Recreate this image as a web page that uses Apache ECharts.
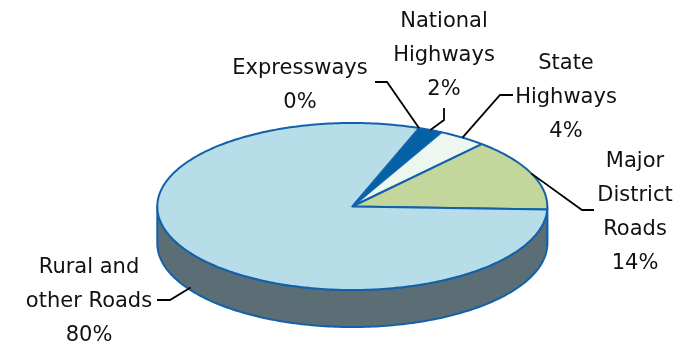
<!DOCTYPE html>
<html>
<head>
<meta charset="utf-8">
<script src="https://cdn.jsdelivr.net/npm/echarts@6/dist/echarts.min.js"></script>
<style>
  html, body { margin: 0; padding: 0; background: #ffffff; }
  #chart { width: 688px; height: 344px; }
</style>
</head>
<body>
<div id="chart"></div>
<script>
// Road network length share by road category (%)
const categories = ['Expressways', 'National Highways', 'State Highways', 'Major District Roads', 'Rural and other Roads'];
const labelNames = ['Expressways', 'National\nHighways', 'State\nHighways', 'Major\nDistrict\nRoads', 'Rural and\nother Roads'];
const shares = [0, 2, 4, 14, 80];

// Fill colours of the top face and of the visible rim
const topColors = ['#0a4f8c', '#0461a6', '#eef7ef', '#c3d69b', '#b7dde8'];
const sideColors = ['#08375f', '#03457a', '#a9b5aa', '#7d8c5f', '#5b6e75'];

// Tilted pie geometry (px) and first-slice angle (degrees, counter-clockwise from 3 o'clock)
const PIE = { cx: 352.3, cy: 206.5, rx: 195, ry: 83.5, depth: 37, start: 70 };
const EDGE = '#1262ab';

// Label blocks: centre of the text block, leader elbow and leader end (px)
const labelLayout = [
  { x: 300, y: 86,  elbow: [387, 82],  end: [375, 82] },
  { x: 444, y: 56,  elbow: [444, 120], end: [444, 108] },
  { x: 566, y: 98,  elbow: [500, 95],  end: [513, 95] },
  { x: 635, y: 213, elbow: [582, 210], end: [594, 210] },
  { x: 89,  y: 302, elbow: [170, 300], end: [157, 300] }
];

const total = shares.reduce((a, b) => a + b, 0);

function ellipsePoint(deg, dy) {
  const t = deg * Math.PI / 180;
  return [PIE.cx + PIE.rx * Math.cos(t), PIE.cy - PIE.ry * Math.sin(t) + (dy || 0)];
}

function arc(from, to, dy) {
  const pts = [];
  const n = Math.max(2, Math.ceil(Math.abs(to - from) / 1));
  for (let k = 0; k <= n; k++) {
    pts.push(ellipsePoint(from + (to - from) * k / n, dy));
  }
  return pts;
}

function renderItem(params, api) {
  const i = params.dataIndex;
  const v = api.value(0);
  let before = 0;
  for (let k = 0; k < i; k++) before += shares[k];
  const a0 = PIE.start - before / total * 360;
  const a1 = a0 - v / total * 360;
  const children = [];

  // visible rim: parts of the slice lying on the front (lower) half
  for (let k = -2; k <= 1; k++) {
    const lo = Math.max(a1, -180 + 360 * k);
    const hi = Math.min(a0, 360 * k);
    if (hi > lo) {
      const pts = arc(hi, lo, 0).concat(arc(lo, hi, PIE.depth));
      children.push({
        type: 'polygon',
        z2: 1,
        shape: { points: pts },
        style: { fill: sideColors[i], stroke: EDGE, lineWidth: 2, lineJoin: 'round' }
      });
    }
  }

  // top face
  if (v > 0) {
    const pts = [[PIE.cx, PIE.cy]].concat(arc(a0, a1, 0));
    children.push({
      type: 'polygon',
      z2: 10,
      shape: { points: pts },
      style: { fill: topColors[i], stroke: EDGE, lineWidth: 2, lineJoin: 'round' }
    });
  }

  // leader line from the slice edge to its label
  const mid = (a0 + a1) / 2;
  const lower = Math.sin(mid * Math.PI / 180) < 0;
  const anchor = ellipsePoint(mid, lower ? PIE.depth * 0.93 : 0);
  const lay = labelLayout[i];
  children.push({
    type: 'polyline',
    z2: 20,
    shape: { points: [anchor, lay.elbow, lay.end] },
    style: { stroke: '#000000', lineWidth: 1.8, fill: null }
  });

  children.push({
    type: 'text',
    z2: 30,
    style: {
      text: labelNames[i] + '\n' + v + '%',
      x: lay.x,
      y: lay.y,
      align: 'center',
      verticalAlign: 'middle',
      fontFamily: '"DejaVu Sans", sans-serif',
      fontSize: 21,
      lineHeight: 34,
      fill: '#111111'
    }
  });

  return { type: 'group', children: children };
}

const chart = echarts.init(document.getElementById('chart'), null, { renderer: 'canvas' });
chart.setOption({
  backgroundColor: '#ffffff',
  animation: false,
  series: [{
    type: 'custom',
    name: 'Road length share',
    coordinateSystem: 'none',
    renderItem: renderItem,
    data: shares.map((v, i) => ({ name: categories[i], value: [v] }))
  }]
});
</script>
</body>
</html>
